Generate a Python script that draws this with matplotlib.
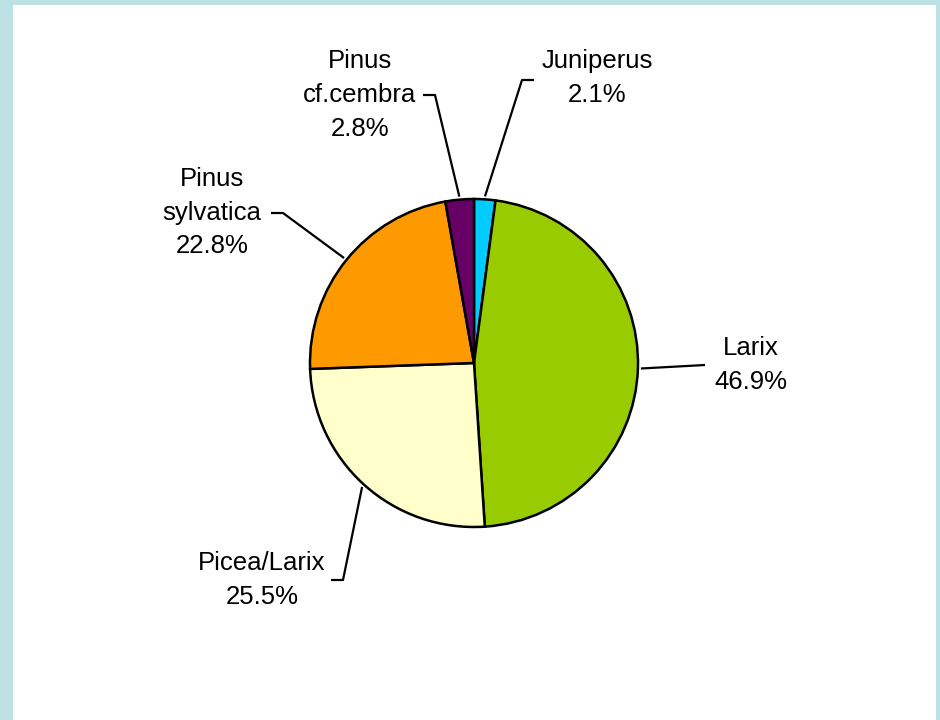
import numpy as np
import matplotlib
matplotlib.use('Agg')
import matplotlib.pyplot as plt

plt.rcParams['font.family'] = ['Liberation Sans', 'DejaVu Sans']

# data
taxa = ['Juniperus', 'Larix', 'Picea/Larix', 'Pinus\nsylvatica', 'Pinus\ncf.cembra']
shares = [2.1, 46.9, 25.5, 22.8, 2.8]
pct_labels = ['2.1%', '46.9%', '25.5%', '22.8%', '2.8%']
colors = ['#00CCFF', '#99CC00', '#FFFFCC', '#FF9900', '#660066']

# layout in pixel units (y measured from the bottom)
W, H = 940, 720
cx, cy, r = 474, H - 363, 164
text_pos = [(597, H - 78), (751, H - 365), (262, H - 580), (212, H - 213), (360, H - 95)]
elbows = [(522, H - 80), (705, H - 365), (343, H - 580), (283, H - 213), (435, H - 95)]
tick_dir = [1, 0, -1, -1, -1]

fig = plt.figure(figsize=(9.4, 7.2), dpi=100, facecolor='#BCE2E5')
ax = fig.add_axes([13 / W, 0, (936 - 13) / W, (H - 5) / H])
ax.set_facecolor('white')

wedges, _ = ax.pie(shares, colors=colors, startangle=90, counterclock=False,
                   center=(cx, cy), radius=r,
                   wedgeprops=dict(edgecolor='black', linewidth=1.8))

ax.set_frame_on(True)
for s in ax.spines.values():
    s.set_visible(False)
ax.set_xticks([])
ax.set_yticks([])
ax.set_xlim(13, 936)
ax.set_ylim(0, H - 5)
ax.set_aspect('equal')

for w, name, pct, tp, el, td in zip(wedges, taxa, pct_labels, text_pos, elbows, tick_dir):
    mid = np.deg2rad((w.theta1 + w.theta2) / 2)
    ex = cx + (r + 3) * np.cos(mid)
    ey = cy + (r + 3) * np.sin(mid)
    xs = [ex, el[0]]
    ys = [ey, el[1]]
    if td != 0:
        xs.append(el[0] + 12 * td)
        ys.append(el[1])
    ax.plot(xs, ys, color='black', lw=1.6, solid_capstyle='butt')
    ax.text(tp[0], tp[1], name + '\n' + pct, ha='center', va='center',
            fontsize=18.5, linespacing=1.5)

fig.savefig('out.png', dpi=100, facecolor=fig.get_facecolor())
